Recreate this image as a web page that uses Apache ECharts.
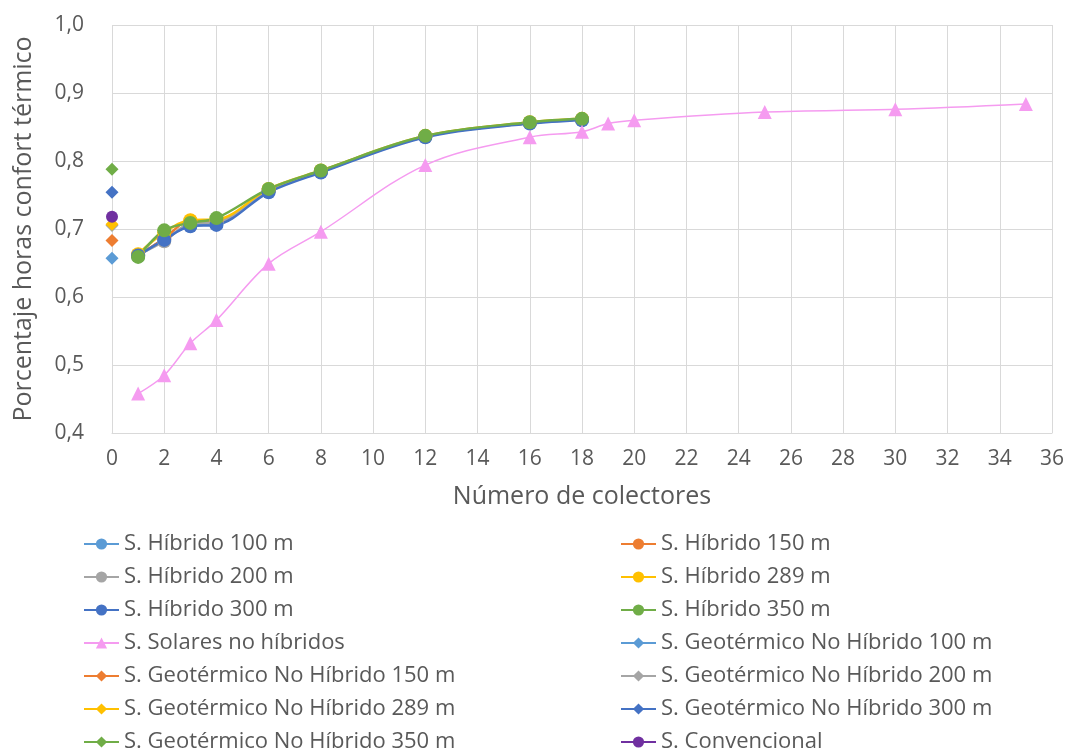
<!DOCTYPE html>
<html>
<head>
<meta charset="utf-8">
<script src="https://cdn.jsdelivr.net/npm/echarts@6/dist/echarts.min.js"></script>
<style>
  html, body { margin: 0; padding: 0; background: #fff; }
  #chart { width: 1068px; height: 751px; }
</style>
</head>
<body>
<div id="chart"></div>
<script>
// x values
const colectoresHibrido = [1, 2, 3, 4, 6, 8, 12, 16, 18]
const colectoresSolar = [1, 2, 3, 4, 6, 8, 12, 16, 18, 19, 20, 25, 30, 35]

// hybrid systems (circles)
const hibrido100 = [0.660, 0.685, 0.705, 0.708, 0.756, 0.784, 0.836, 0.856, 0.861]
const hibrido150 = [0.661, 0.686, 0.712, 0.712, 0.757, 0.785, 0.836, 0.856, 0.861]
const hibrido200 = [0.662, 0.682, 0.708, 0.710, 0.757, 0.785, 0.836, 0.856, 0.861]
const hibrido289 = [0.663, 0.695, 0.713, 0.714, 0.759, 0.786, 0.837, 0.857, 0.862]
const hibrido300 = [0.661, 0.684, 0.704, 0.706, 0.754, 0.783, 0.835, 0.855, 0.860]
const hibrido350 = [0.659, 0.698, 0.709, 0.716, 0.759, 0.786, 0.837, 0.857, 0.862]

// solar only (triangles)
const solares = [0.458, 0.485, 0.532, 0.566, 0.649, 0.696, 0.794, 0.835, 0.843, 0.855, 0.860, 0.872, 0.876, 0.884]

// geothermal without hybrid, single point at 0 collectors (diamonds)
const geo100 = [0.657]
const geo150 = [0.683]
const geo200 = [0.705]
const geo289 = [0.707]
const geo300 = [0.754]
const geo350 = [0.788]
const convencional = [0.718]

const yTicks = [0.4, 0.5, 0.6, 0.7, 0.8, 0.9, 1.0]

const textColor = '#595959'
const gridColor = '#D9D9D9'
const fontFamily = '"Open Sans", "DejaVu Sans", sans-serif'

const pairs = (xs, ys) => ys.map((v, i) => [xs[i], v])

const hybridSeries = (name, data, color) => ({
  name,
  type: 'line',
  data: pairs(colectoresHibrido, data),
  smooth: 0.35,
  symbol: 'circle',
  symbolSize: 14,
  color,
  lineStyle: { width: 2.5, color },
  itemStyle: { color }
})

const geoSeries = (name, data, color, symbol) => ({
  name,
  type: 'line',
  data: pairs([0], data),
  symbol: symbol || 'diamond',
  symbolSize: symbol ? 12 : 13,
  color,
  lineStyle: { width: 2.5, color },
  itemStyle: { color }
})

const chart = echarts.init(document.getElementById('chart'))

const legendBase = {
  orient: 'vertical',
  top: 532,
  height: 240,
  padding: 0,
  itemWidth: 35,
  itemHeight: 14,
  itemGap: 9,
  textStyle: {
    color: textColor,
    fontSize: 22,
    fontFamily,
    lineHeight: 24
  }
}

const option = {
  animation: false,
  textStyle: { fontFamily },
  grid: {
    left: 112,
    right: 16,
    top: 25,
    bottom: 318,
    containLabel: false
  },
  legend: [
    Object.assign({}, legendBase, {
      left: 83,
      data: [
        'S. Híbrido 100 m', 'S. Híbrido 200 m', 'S. Híbrido 300 m', 'S. Solares no híbridos',
        'S. Geotérmico No Híbrido 150 m', 'S. Geotérmico No Híbrido 289 m', 'S. Geotérmico No Híbrido 350 m'
      ]
    }),
    Object.assign({}, legendBase, {
      left: 620,
      data: [
        'S. Híbrido 150 m', 'S. Híbrido 289 m', 'S. Híbrido 350 m', 'S. Geotérmico No Híbrido 100 m',
        'S. Geotérmico No Híbrido 200 m', 'S. Geotérmico No Híbrido 300 m', 'S. Convencional'
      ]
    })
  ],
  xAxis: {
    type: 'value',
    min: 0,
    max: 36,
    interval: 2,
    name: 'Número de colectores',
    nameLocation: 'middle',
    nameGap: 51,
    nameTextStyle: { color: textColor, fontSize: 25, fontFamily },
    axisLabel: { color: textColor, fontSize: 21, margin: 16 },
    axisTick: { show: false },
    axisLine: { show: true, lineStyle: { color: gridColor, width: 1 } },
    splitLine: { show: true, lineStyle: { color: gridColor, width: 1 } }
  },
  yAxis: {
    type: 'value',
    min: yTicks[0],
    max: yTicks[yTicks.length - 1],
    interval: 0.1,
    name: 'Porcentaje horas confort térmico',
    nameLocation: 'middle',
    nameGap: 76,
    nameTextStyle: { color: textColor, fontSize: 25, fontFamily },
    axisLabel: {
      color: textColor,
      fontSize: 21,
      margin: 28,
      formatter: v => v.toFixed(1).replace('.', ',')
    },
    axisTick: { show: false },
    axisLine: { show: false },
    splitLine: { show: true, lineStyle: { color: gridColor, width: 1 } }
  },
  series: [
    hybridSeries('S. Híbrido 100 m', hibrido100, '#5B9BD5'),
    hybridSeries('S. Híbrido 150 m', hibrido150, '#ED7D31'),
    hybridSeries('S. Híbrido 200 m', hibrido200, '#A5A5A5'),
    hybridSeries('S. Híbrido 289 m', hibrido289, '#FFC000'),
    hybridSeries('S. Híbrido 300 m', hibrido300, '#4472C4'),
    hybridSeries('S. Híbrido 350 m', hibrido350, '#70AD47'),
    {
      name: 'S. Solares no híbridos',
      type: 'line',
      data: pairs(colectoresSolar, solares),
      smooth: 0.35,
      symbol: 'triangle',
      symbolSize: 14,
      color: '#F59BF0',
      lineStyle: { width: 1.5, color: '#F59BF0' },
      itemStyle: { color: '#F59BF0' }
    },
    geoSeries('S. Geotérmico No Híbrido 100 m', geo100, '#5B9BD5'),
    geoSeries('S. Geotérmico No Híbrido 150 m', geo150, '#ED7D31'),
    geoSeries('S. Geotérmico No Híbrido 200 m', geo200, '#A5A5A5'),
    geoSeries('S. Geotérmico No Híbrido 289 m', geo289, '#FFC000'),
    geoSeries('S. Geotérmico No Híbrido 300 m', geo300, '#4472C4'),
    geoSeries('S. Geotérmico No Híbrido 350 m', geo350, '#70AD47'),
    geoSeries('S. Convencional', convencional, '#7030A0', 'circle')
  ]
}

chart.setOption(option)
</script>
</body>
</html>
